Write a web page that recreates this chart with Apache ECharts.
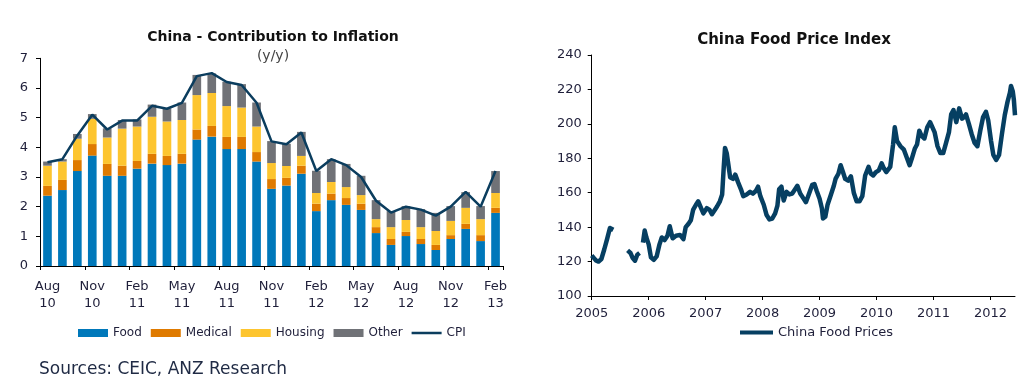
<!DOCTYPE html>
<html>
<head>
<meta charset="utf-8">
<script src="https://cdn.jsdelivr.net/npm/echarts@6/dist/echarts.min.js"></script>
<style>
html,body{margin:0;padding:0;background:#fff;}
#c{width:1029px;height:390px;}
</style>
</head>
<body>
<div id="c"></div>
<script>
// ---- Left chart: China - Contribution to Inflation (y/y) ----
const months = ['Aug 10','Sep 10','Oct 10','Nov 10','Dec 10','Jan 11','Feb 11','Mar 11','Apr 11','May 11','Jun 11','Jul 11','Aug 11','Sep 11','Oct 11','Nov 11','Dec 11','Jan 12','Feb 12','Mar 12','Apr 12','May 12','Jun 12','Jul 12','Aug 12','Sep 12','Oct 12','Nov 12','Dec 12','Jan 13','Feb 13'];
const food    = [2.37,2.56,3.20,3.72,3.04,3.04,3.28,3.45,3.40,3.45,4.26,4.36,3.94,3.94,3.52,2.60,2.71,3.11,1.85,2.22,2.06,1.89,1.11,0.71,1.01,0.74,0.54,0.91,1.25,0.84,1.79];
const medical = [0.33,0.34,0.37,0.39,0.40,0.34,0.26,0.33,0.31,0.33,0.34,0.36,0.41,0.41,0.32,0.33,0.26,0.27,0.25,0.22,0.23,0.21,0.20,0.20,0.14,0.17,0.17,0.13,0.17,0.20,0.17];
const housing = [0.68,0.62,0.72,0.85,0.89,1.25,1.16,1.25,1.16,1.14,1.16,1.11,1.04,0.99,0.86,0.54,0.40,0.33,0.36,0.39,0.37,0.29,0.27,0.40,0.40,0.40,0.47,0.48,0.54,0.54,0.50];
const other   = [0.14,0.08,0.16,0.16,0.31,0.29,0.24,0.41,0.44,0.59,0.68,0.66,0.82,0.79,0.81,0.74,0.75,0.81,0.75,0.77,0.78,0.65,0.64,0.54,0.47,0.61,0.61,0.50,0.53,0.44,0.74];
const cpi     = [3.5,3.6,4.4,5.1,4.6,4.9,4.9,5.4,5.3,5.5,6.4,6.5,6.2,6.1,5.5,4.2,4.1,4.5,3.2,3.6,3.4,3.0,2.2,1.8,2.0,1.9,1.7,2.0,2.5,2.0,3.2];

// ---- Right chart: China Food Price Index ----
const yearTicks = [2005,2006,2007,2008,2009,2010,2011,2012];
const foodYears = [2005.00,2005.04,2005.08,2005.12,2005.17,2005.22,2005.27,2005.32,2005.35,2005.38,2005.50,
2005.63,2005.68,2005.72,2005.76,2005.80,2005.84,2005.87,
2005.90,2005.93,2005.96,2006.00,2006.04,2006.09,2006.14,2006.19,2006.23,2006.28,2006.33,2006.37,2006.42,2006.48,2006.55,2006.61,2006.65,2006.70,2006.74,2006.78,2006.83,2006.87,2006.92,2006.96,
2007.02,2007.07,2007.11,2007.16,2007.20,2007.25,2007.29,2007.32,2007.34,2007.37,2007.40,2007.43,2007.48,2007.52,2007.57,2007.62,2007.66,2007.72,2007.78,2007.83,2007.88,2007.92,2007.96,
2008.02,2008.07,2008.12,2008.17,2008.22,2008.26,2008.29,2008.33,2008.37,2008.42,2008.47,2008.52,2008.57,2008.61,2008.66,2008.71,2008.76,2008.81,2008.87,2008.91,2008.95,
2009.00,2009.04,2009.06,2009.10,2009.14,2009.20,2009.25,2009.28,2009.33,2009.37,2009.41,2009.45,2009.50,2009.55,2009.60,2009.65,2009.70,2009.75,2009.80,2009.86,2009.90,2009.94,2009.99,
2010.04,2010.09,2010.13,2010.17,2010.24,2010.29,2010.32,2010.36,2010.42,2010.48,2010.53,2010.58,2010.62,2010.67,2010.71,2010.75,2010.79,2010.84,2010.89,2010.94,2010.97,
2011.02,2011.07,2011.12,2011.17,2011.22,2011.27,2011.31,2011.35,2011.40,2011.45,2011.50,2011.54,2011.57,2011.62,2011.67,2011.72,2011.77,2011.82,2011.87,2011.92,2011.96,
2012.01,2012.05,2012.10,2012.15,2012.20,2012.25,2012.30,2012.34,2012.36,2012.39,2012.41,2012.43];
const foodIndex = [123.5,122,120.5,120,121.5,127,133,139.5,140,138.5,null,
126.5,125,122,120.5,124,125,null,
131,138,134,130,122.5,121,123,130,134,132.5,135,140.5,133.5,135,135.5,133,140,142,144,150,153,155,151,148,
151,150,147.5,150,152,155,159,176,186,183,176,169,168,170.5,166,162,158,159,160.5,159.5,161,163.5,158,
153,147,144.5,145,148,152.5,162,163.5,155.5,160.5,159,159.5,162,164,159.5,157,154.5,159,164.5,165,161,
156.5,151,145,146,153,159,164,168,171,176,172,168,167,169.5,160,155,155,158,170,175,171,170,172,
173,177,174,172,175,188,198,190,187,185,180.5,176,180,185.5,188,196,193,191.5,198,201,202,
195,187,183,183,189,195,205.5,208,201,209,203,204,205.5,200,194,189,187,196,204,207,202,
190,182,179,182,194,205,213,218,222,219,214,205];

const navy = '#0b3d5e';
const labelColor = '#1f1f3a';
const FONT = 'DejaVu Sans';
// plain line legend icons (band in the middle of the item box)
const cpiIcon = 'path://M0,0L0.05,0L0.05,0.05Z M0,2.8L30,2.8L30,5.2L0,5.2Z M29.95,7.95L30,7.95L30,8Z';
const foodIcon = 'path://M0,0L0.05,0L0.05,0.05Z M0,2L33,2L33,6L0,6Z M32.95,7.95L33,7.95L33,8Z';

const chart = echarts.init(document.getElementById('c'), null, {renderer:'canvas'});
const foodData = foodYears.map((y,i) => [y, foodIndex[i]]);

const option = {
  backgroundColor: '#fff',
  animation: false,
  textStyle: {fontFamily: FONT},
  graphic: [
    {type:'text', x:273, y:37, style:{text:'China - Contribution to Inflation', font:'bold 14px "DejaVu Sans"', fill:'#111', textAlign:'center', textVerticalAlign:'middle'}},
    {type:'text', x:273, y:56, style:{text:'(y/y)', font:'14px "DejaVu Sans"', fill:'#444', textAlign:'center', textVerticalAlign:'middle'}},
    {type:'text', x:794, y:40, style:{text:'China Food Price Index', font:'bold 15px "DejaVu Sans"', fill:'#111', textAlign:'center', textVerticalAlign:'middle'}},
    {type:'text', x:39, y:370, style:{text:'Sources: CEIC, ANZ Research', font:'17px "DejaVu Sans"', fill:'#1f2a44', textAlign:'left', textVerticalAlign:'middle'}}
  ],
  legend: [
    {
      left: 73, top: 322, itemWidth: 30, itemHeight: 8, itemGap: 9,
      textStyle: {fontFamily: FONT, fontSize: 12, color: labelColor},
      data: [
        {name:'Food', icon:'rect'},
        {name:'Medical', icon:'rect'},
        {name:'Housing', icon:'rect'},
        {name:'Other', icon:'rect'},
        {name:'CPI', icon: cpiIcon}
      ]
    },
    {
      left: 735, top: 321, itemWidth: 33, itemHeight: 8,
      textStyle: {fontFamily: FONT, fontSize: 13, color: labelColor},
      data: [{name:'China Food Prices', icon: foodIcon}]
    }
  ],
  grid: [
    {left: 40, top: 58.3, width: 463, height: 207.7, containLabel: false},
    {left: 591.7, top: 55, width: 423.3, height: 241, containLabel: false}
  ],
  xAxis: [
    {
      type:'category', gridIndex:0, data: months, boundaryGap: true,
      axisLine:{lineStyle:{color:'#000', width:1}},
      axisTick:{show:true, interval:2, length:4, alignWithLabel:false, lineStyle:{color:'#000'}},
      axisLabel:{interval:2, color: labelColor, fontSize:13, fontFamily: FONT, lineHeight:17, margin:12,
        formatter: v => v.replace(' ', '\n')},
      splitLine:{show:false}
    },
    {
      type:'value', gridIndex:1, min:2005, max:2012.43,
      axisLine:{lineStyle:{color:'#000', width:1}},
      axisTick:{show:true, length:4, lineStyle:{color:'#000'}, customValues: yearTicks},
      axisLabel:{color: labelColor, fontSize:13, fontFamily: FONT, margin:11, customValues: yearTicks,
        formatter: v => String(Math.round(v))},
      splitLine:{show:false}
    }
  ],
  yAxis: [
    {
      type:'value', gridIndex:0, min:0, max:7, interval:1,
      axisLine:{show:true, lineStyle:{color:'#000', width:1}},
      axisTick:{show:true, length:4, lineStyle:{color:'#000'}},
      axisLabel:{color: labelColor, fontSize:13, fontFamily: FONT, margin:12},
      splitLine:{show:false}
    },
    {
      type:'value', gridIndex:1, min:100, max:240, interval:20,
      axisLine:{show:true, lineStyle:{color:'#000', width:1}},
      axisTick:{show:true, length:4, lineStyle:{color:'#000'}},
      axisLabel:{color: labelColor, fontSize:13, fontFamily: FONT, margin:10},
      splitLine:{show:false}
    }
  ],
  series: [
    {name:'Food', type:'bar', stack:'c', xAxisIndex:0, yAxisIndex:0, data: food, barWidth:'58%', itemStyle:{color:'#0078ba'}},
    {name:'Medical', type:'bar', stack:'c', xAxisIndex:0, yAxisIndex:0, data: medical, barWidth:'58%', itemStyle:{color:'#df7a00'}},
    {name:'Housing', type:'bar', stack:'c', xAxisIndex:0, yAxisIndex:0, data: housing, barWidth:'58%', itemStyle:{color:'#fdc52f'}},
    {name:'Other', type:'bar', stack:'c', xAxisIndex:0, yAxisIndex:0, data: other, barWidth:'58%', itemStyle:{color:'#707277'}},
    {name:'CPI', type:'line', xAxisIndex:0, yAxisIndex:0, data: cpi, symbol:'none', showSymbol:false,
      lineStyle:{color: navy, width:2.5}, itemStyle:{color: navy}, z:5},
    {name:'China Food Prices', type:'line', xAxisIndex:1, yAxisIndex:1, data: foodData, symbol:'none', showSymbol:false,
      connectNulls:false, lineStyle:{color:'#063f62', width:4.5, join:'round'}, itemStyle:{color:'#063f62'}}
  ]
};
chart.setOption(option);
</script>
</body>
</html>
